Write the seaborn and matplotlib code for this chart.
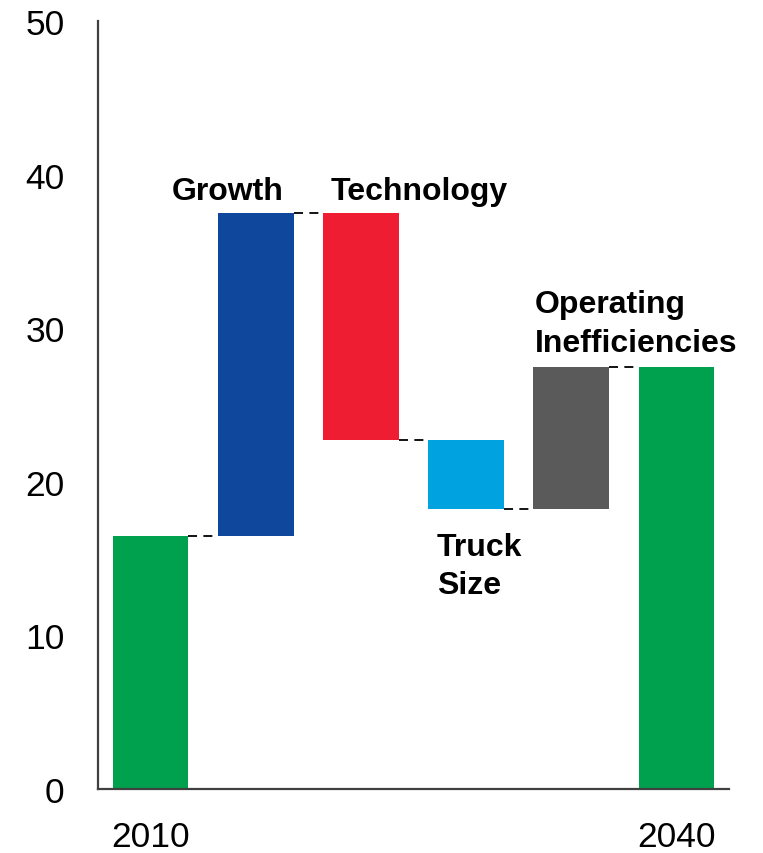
import numpy as np
import pandas as pd
import seaborn as sns
import matplotlib
matplotlib.use("Agg")
import matplotlib.pyplot as plt

# Waterfall: starting total, the four drivers, ending total
categories = ["2010", "Growth", "Technology", "Truck Size", "Operating Inefficiencies", "2040"]
start_total = 16.5
changes = [21.0, -14.8, -4.5, 9.3]
end_total = 27.5
colors = ["#00A14E", "#0E479C", "#EE1D31", "#00A2E0", "#5A5A5A", "#00A14E"]

# Labels drawn above/below the driver bars
driver_labels = ["Growth", "Technology", "Truck\nSize", "Operating\nInefficiencies"]
tick_labels = ["2010", "2040"]
y_ticks = [0, 10, 20, 30, 40, 50]

# Cumulative levels -> bar bottoms and heights
levels = np.concatenate([[start_total], start_total + np.cumsum(changes)])
bottoms = [0.0] + [min(levels[i], levels[i + 1]) for i in range(len(changes))] + [0.0]
heights = [start_total] + [abs(c) for c in changes] + [end_total]

df = pd.DataFrame({"category": categories, "height": heights, "bottom": bottoms})

sns.set_style("white")
plt.rcParams["font.family"] = ["Liberation Sans", "DejaVu Sans"]

fig = plt.figure(figsize=(7.63, 8.54), dpi=100)
ax = fig.add_axes([98 / 763, 1 - 790 / 854, (729 - 98) / 763, (790 - 22) / 854])

bar_w = 0.72
sns.barplot(data=df, x="category", y="height", bottom=df["bottom"].values,
            color=colors[0], width=bar_w, ax=ax, errorbar=None,
            saturation=1, linewidth=0)
for patch, c in zip(ax.patches, colors):
    patch.set_facecolor(c)
    patch.set_edgecolor("none")

# Dashed connectors between consecutive bars
conn_levels = list(levels) + [end_total]
for i in range(len(categories) - 1):
    ax.plot([i + bar_w / 2, i + 1 - bar_w / 2], [conn_levels[i], conn_levels[i]],
            color="black", lw=1.3, dashes=(5, 3.5), solid_capstyle="butt")

# Driver annotations
lab_kw = dict(fontsize=23, fontweight="bold", color="black")
ax.text(0.73, 38.9, driver_labels[0], ha="center", va="center", **lab_kw)
ax.text(1.71, 38.9, driver_labels[1], ha="left", va="center", **lab_kw)
ax.text(2.72, 14.5, driver_labels[2], ha="left", va="center", linespacing=1.36, **lab_kw)
ax.text(3.65, 30.3, driver_labels[3], ha="left", va="center", linespacing=1.36, **lab_kw)

ax.set_xlim(-0.5, 5.5)
ax.set_ylim(0, 50)
ax.set_xticks([0, len(categories) - 1])
ax.set_xticklabels(tick_labels)
ax.set_yticks(y_ticks)
ax.tick_params(axis="both", length=0, labelsize=25.5, colors="black")
ax.tick_params(axis="x", pad=22)
ax.tick_params(axis="y", pad=24)
ax.set_xlabel("")
ax.set_ylabel("")

for side in ["top", "right"]:
    ax.spines[side].set_visible(False)
for side in ["left", "bottom"]:
    ax.spines[side].set_color("#404040")
    ax.spines[side].set_linewidth(1.6)

fig.savefig("out.png", dpi=100)
